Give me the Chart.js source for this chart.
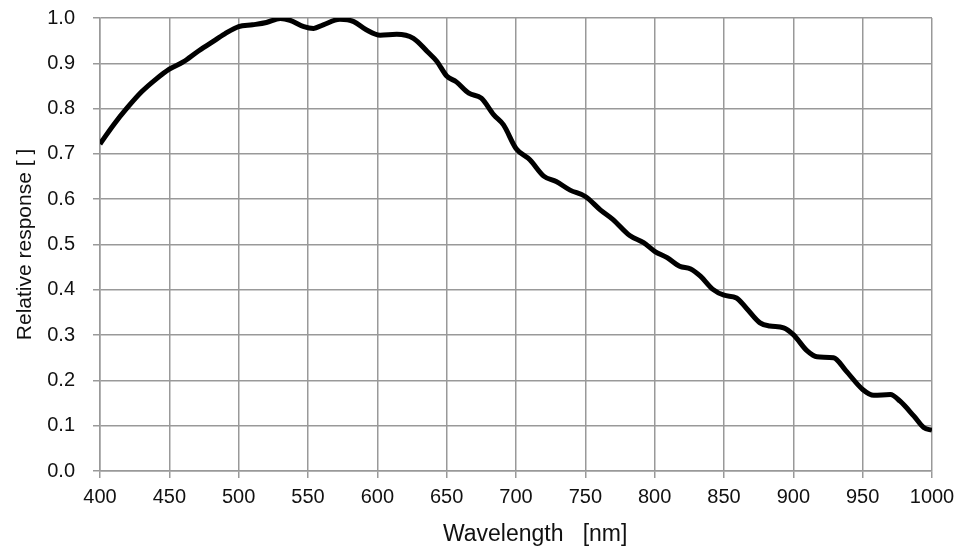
<!DOCTYPE html>
<html>
<head>
<meta charset="utf-8">
<script src="https://cdn.jsdelivr.net/npm/chart.js@4"></script>
<style>
  body { margin: 0; background: #fff; }
  canvas { display: block; }
</style>
</head>
<body>
<canvas id="graph" width="968" height="556"></canvas>
<script>
// wavelength in nm, relative response
var wavelength = [400, 410, 420, 430, 440, 450, 460, 470, 480, 490, 500, 510, 520, 530, 537, 547, 554, 561, 573, 583,
    592, 602, 614, 626, 636, 643, 650, 657, 666, 675, 684, 691, 700, 710, 720, 729, 739, 750, 761, 770,
    782, 792, 800, 809, 818, 826, 833, 842, 850, 859, 866, 876, 883, 893, 900, 910, 917, 929, 938, 950,
    958, 970, 977, 987, 994, 1000];
var response = [0.722, 0.765, 0.803, 0.837, 0.864, 0.887, 0.903, 0.925, 0.945, 0.965, 0.981, 0.985, 0.990, 0.999, 0.995, 0.981, 0.977, 0.985, 0.997, 0.992,
    0.974, 0.962, 0.964, 0.955, 0.926, 0.904, 0.872, 0.859, 0.834, 0.823, 0.786, 0.764, 0.712, 0.687, 0.651, 0.639, 0.620, 0.606, 0.576, 0.555,
    0.520, 0.504, 0.485, 0.471, 0.452, 0.446, 0.430, 0.401, 0.388, 0.382, 0.360, 0.327, 0.320, 0.316, 0.301, 0.265, 0.252, 0.250, 0.221, 0.180,
    0.167, 0.169, 0.154, 0.121, 0.096, 0.090];

// leading no-break spaces push the title right, like in the original
var x_title = "\u00a0\u00a0\u00a0\u00a0\u00a0\u00a0Wavelength   [nm]";
var y_title = "Relative response [ ]";

var points = [];
for (let i = 0; i < wavelength.length; i++) {
    points.push({ x: wavelength[i], y: response[i] });
}

Chart.defaults.font.family = "'Liberation Sans', Arial, sans-serif";
Chart.defaults.color = "#111";

var gridColor = "#999999";

var ctx = document.getElementById("graph").getContext("2d");

var config = {
    type: "line",
    data: {
        datasets: [{
            data: points,
            borderColor: "#000",
            borderWidth: 5,
            pointRadius: 0,
            cubicInterpolationMode: "monotone",
            fill: false
        }]
    },
    options: {
        responsive: false,
        animation: false,
        layout: { padding: { top: 18, right: 36, left: 0, bottom: 0 } },
        plugins: { legend: { display: false }, tooltip: { enabled: false } },
        scales: {
            x: {
                type: "linear",
                min: 400,
                max: 1000,
                ticks: {
                    stepSize: 50,
                    font: { size: 20 },
                    padding: 7,
                    maxRotation: 0,
                    callback: function (v) { return String(v); }
                },
                grid: { color: gridColor, lineWidth: 1.5, tickLength: 7 },
                border: { color: gridColor, width: 1.5 },
                title: {
                    display: true,
                    text: x_title,
                    font: { size: 23 },
                    padding: { top: 0, bottom: 8 }
                },
                afterFit: function (scale) { scale.height = 85; }
            },
            y: {
                min: 0,
                max: 1,
                ticks: {
                    stepSize: 0.1,
                    font: { size: 20 },
                    padding: 18,
                    callback: function (v) { return v.toFixed(1); }
                },
                grid: { color: gridColor, lineWidth: 1.5, tickLength: 7 },
                border: { color: gridColor, width: 1.5 },
                title: {
                    display: true,
                    text: y_title,
                    font: { size: 21 },
                    padding: { top: 13, bottom: 0 }
                },
                afterFit: function (scale) {
                    scale.width = 100;
                    scale.paddingTop = 0;
                    scale.paddingBottom = 0;
                }
            }
        }
    }
};

var graph = new Chart(ctx, config);
</script>
</body>
</html>
